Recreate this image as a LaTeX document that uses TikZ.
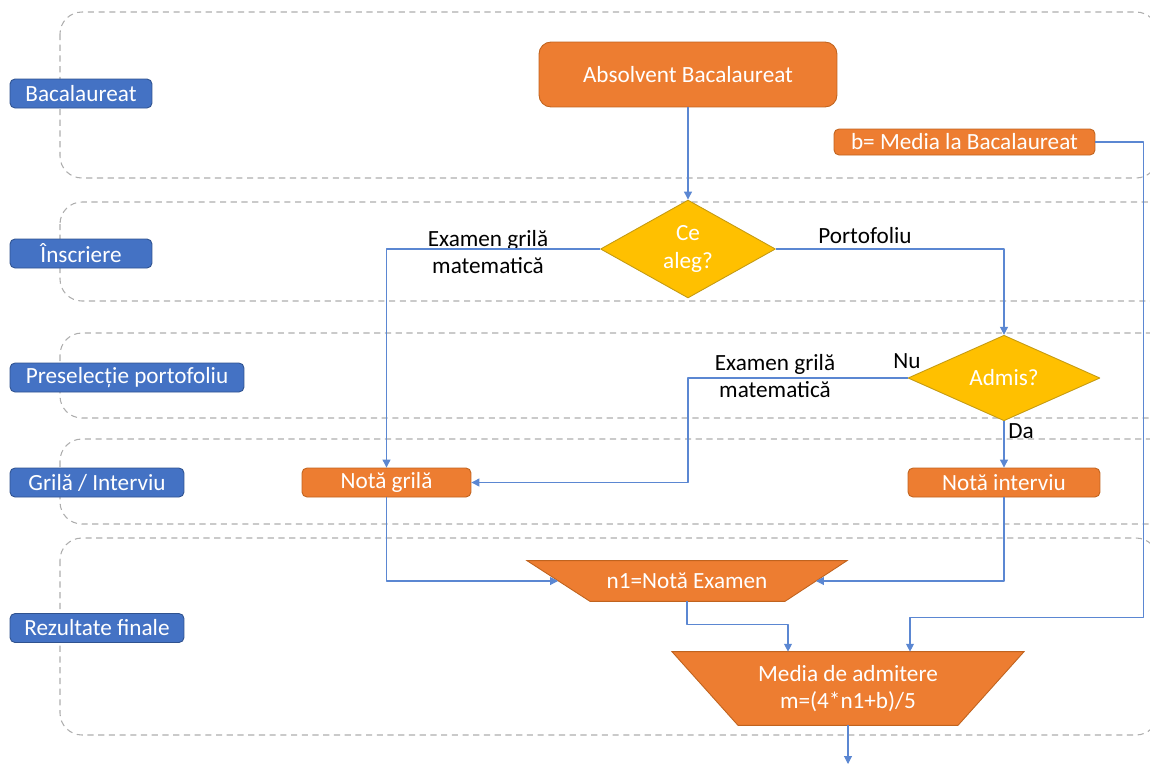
\documentclass[tikz,border=0pt]{standalone}
\usepackage{fontspec}
\setmainfont{Carlito}
\usetikzlibrary{positioning,calc,shapes.geometric,arrows.meta,backgrounds}

\definecolor{orangeF}{HTML}{ED7D31}
\definecolor{orangeD}{HTML}{C0631E}
\definecolor{goldF}{HTML}{FFC000}
\definecolor{goldD}{HTML}{C49A12}
\definecolor{blueF}{HTML}{4472C4}
\definecolor{blueD}{HTML}{2F528F}
\definecolor{connC}{HTML}{5B87D2}
\definecolor{laneGray}{HTML}{ADADAD}

\begin{document}
\begin{tikzpicture}[
					x=0.02cm,y=-0.02cm,
					>={Triangle[length=4.5pt,width=4.5pt]},
					line join=round,
					font=\fontsize{13.2}{15.8}\selectfont,
					lane/.style={draw=laneGray, line width=0.6pt, dash pattern=on 3.5pt off 2.6pt, rounded corners=0.44cm},
					phase/.style={draw=blueD, fill=blueF, text=white, rounded corners=0.1cm, line width=0.5pt, inner sep=0pt, minimum height=0.58cm},
					proc/.style={draw=orangeD, fill=orangeF, text=white, rounded corners=0.1cm, line width=0.5pt, inner sep=0pt},
					choice/.style={diamond, draw=goldD, fill=goldF, text=white, line width=0.5pt, inner sep=0pt, align=center},
					calctext/.style={text=white, inner sep=0pt, align=center},
					calcfill/.style={draw=orangeD, fill=orangeF, line width=0.5pt},
					conn/.style={draw=connC, line width=0.6pt},
					lbl/.style={inner sep=0pt, text=black}
					]
					%----- frame
					\useasboundingbox (0,0) rectangle (1150,765);
					\clip (0,0) rectangle (1150,765);
					
					%----- lanes
					\draw[lane] (60,12) rectangle (1158,178);
					\draw[lane] (60,202) rectangle (1200,301);
					\draw[lane] (60,333) rectangle (1200,418);
					\draw[lane] (60,439) rectangle (1200,524);
					\draw[lane] (60,538) rectangle (1158,735);
					
					%----- phase labels
					\node[phase, minimum width=2.84cm] (pBac) at (81,93.5) {Bacalaureat};
					\node[phase, minimum width=2.84cm] (pIns) at (81,253.5) {Înscriere};
					\node[phase, minimum width=4.68cm] (pPre) at (127,377.5) {Preselecție portofoliu};
					\node[phase, minimum width=3.48cm] (pGri) at (97,482.5) {Grilă / Interviu};
					\node[phase, minimum width=3.48cm] (pRez) at (97,628) {Rezultate finale};
					
					%----- steps
					\node[proc, rounded corners=0.24cm, minimum width=5.96cm, minimum height=1.3cm] (abs) at (688,74.5) {Absolvent Bacalaureat};
					\node[proc, minimum width=5.22cm, minimum height=0.52cm] (bmed) at (964.5,142) {b= Media la Bacalaureat};
					\node[choice, minimum width=3.5cm, minimum height=1.96cm] (ce) at (688,249) {Ce\\aleg?};
					\node[choice, minimum width=3.84cm, minimum height=1.4cm] (adm) at (1004,378) {Admis?};
					\node[proc, minimum width=3.38cm, minimum height=0.58cm] (ngr) at (386.5,482.5) {Notă grilă};
					\node[proc, minimum width=3.84cm, minimum height=0.58cm] (nint) at (1004,482.5) {Notă interviu};
					
					%----- result trapezoids (shape drawn behind the text node)
					\node[calctext, minimum height=0.8cm] (n1) at (687,581) {n1=Notă Examen};
					\node[calctext, minimum height=1.46cm] (med) at (848,688.5) {Media de admitere\\m=(4*n1+b)/5};
					\begin{scope}[on background layer]
						\fill[calcfill] ($(n1.north)+(-160,0)$) -- ($(n1.north)+(160,0)$) -- ($(n1.south)+(98,0)$) -- ($(n1.south)+(-97,0)$) -- cycle;
						\fill[calcfill] ($(med.north)+(-176,0)$) -- ($(med.north)+(176,0)$) -- ($(med.south)+(110,0)$) -- ($(med.south)+(-110,0)$) -- cycle;
					\end{scope}
					\coordinate (n1L) at ($(n1)+(-129,0)$);
					\coordinate (n1R) at ($(n1)+(129,0)$);
					
					%----- branch labels
					\node[lbl, align=center] (lExL) at (488,252) {Examen grilă\\matematică};
					\node[lbl] (lPort) at (865,236) {Portofoliu};
					\node[lbl, align=center] (lExR) at (775,376) {Examen grilă\\matematică};
					\node[lbl] (lNu) at (907,361) {Nu};
					\node[lbl] (lDa) at (1021,431) {Da};
					
					%----- connectors
					\coordinate (out) at (848,764);
					\draw[conn,->] (abs) -- (ce);
					\draw[conn,->] (ce.west) -| (ngr.north);
					\draw[conn,->] (ce.east) -| (adm.north);
					\draw[conn,->] (adm.west) -- (adm.west -| abs.south) |- (ngr.east);
					\draw[conn,->] (adm) -- (nint);
					\draw[conn,->] (ngr.south) |- (n1L);
					\draw[conn,->] (nint.south) |- (n1R);
					\draw[conn,->] (n1.south) |- ($(med.north)+(-60,-27)$) -- ($(med.north)+(-60,0)$);
					\draw[conn,->] (bmed.east) -- ++(48,0) |- ($(med.north)+(62,-34)$) -- ($(med.north)+(62,0)$);
					\draw[conn,->] (med.south) -- (out);
					
				\end{tikzpicture}
\end{document}
